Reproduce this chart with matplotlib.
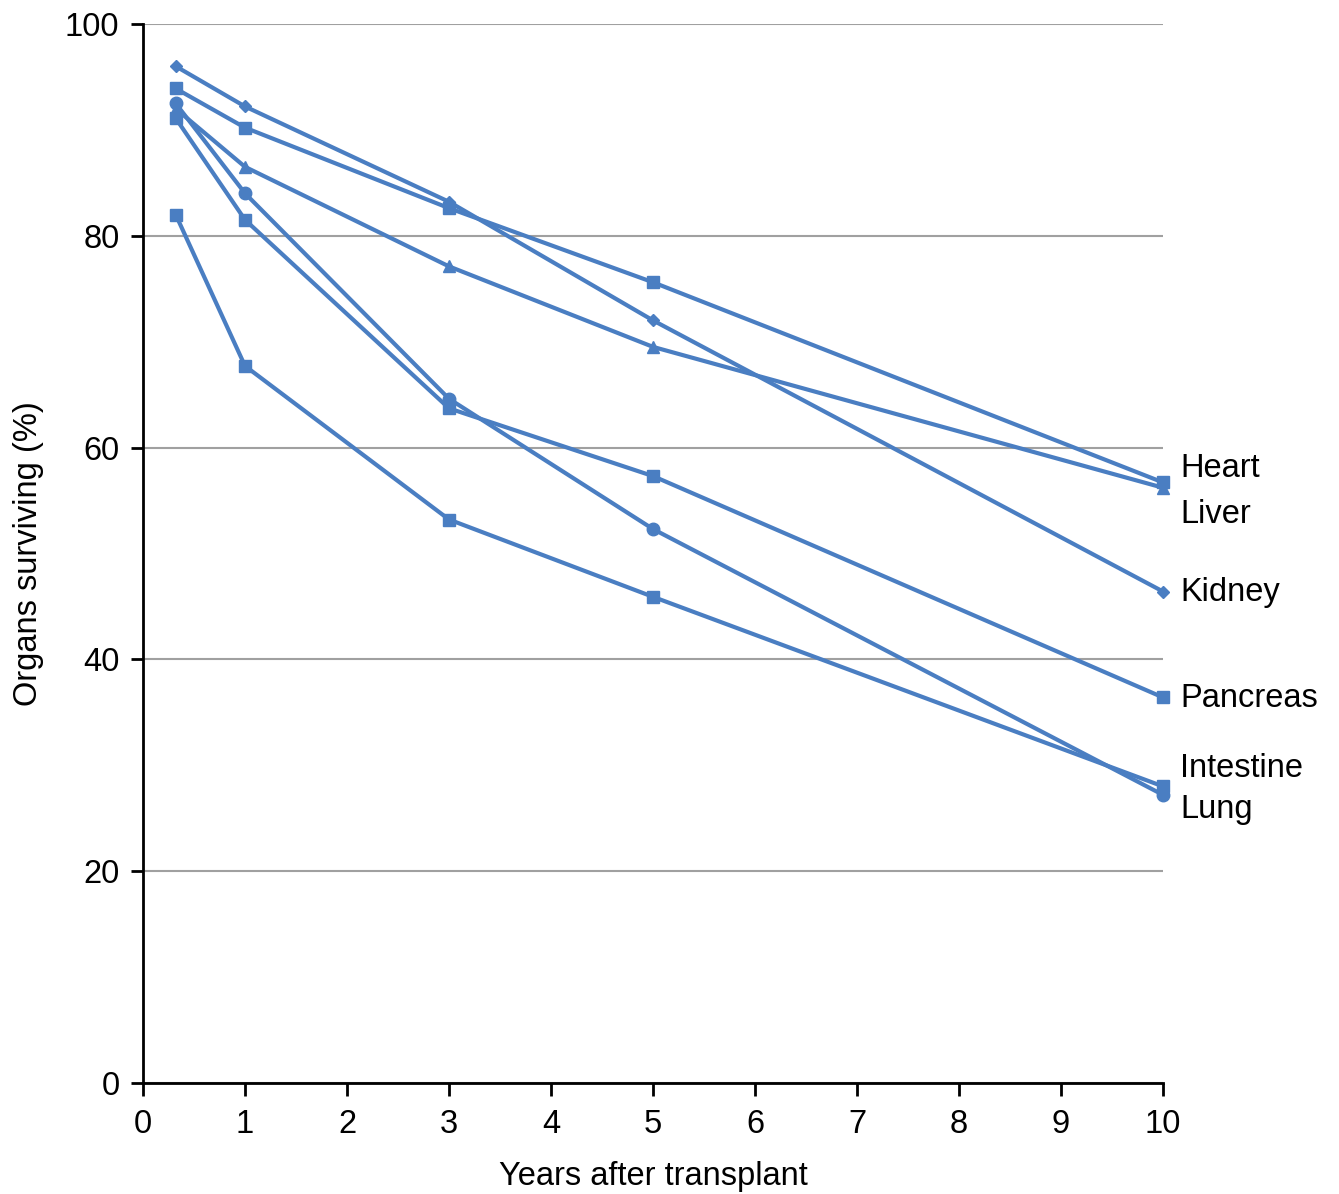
import matplotlib
matplotlib.use("Agg")
import matplotlib.pyplot as plt

plt.rcParams['font.family'] = ['Liberation Sans', 'DejaVu Sans']

years = [0.32, 1, 3, 5, 10]
kidney = [96.0, 92.2, 83.2, 72.0, 46.4]
heart = [93.9, 90.2, 82.6, 75.6, 56.7]
liver = [92.0, 86.5, 77.1, 69.5, 56.2]
lung = [92.5, 84.0, 64.6, 52.3, 27.2]
pancreas = [91.1, 81.5, 63.7, 57.3, 36.4]
intestine = [82.0, 67.7, 53.2, 45.9, 28.0]

series = [
    ("Kidney", kidney, "D", 6),
    ("Heart", heart, "s", 9),
    ("Liver", liver, "^", 9),
    ("Lung", lung, "o", 9),
    ("Pancreas", pancreas, "s", 9),
    ("Intestine", intestine, "s", 9),
]
labels = ["Heart", "Liver", "Kidney", "Pancreas", "Intestine", "Lung"]
label_y = [58.0, 53.7, 46.3, 36.3, 29.7, 25.8]

color = "#4A7EC2"

fig = plt.figure(figsize=(13.39, 11.94), dpi=100)
ax = fig.add_axes([0.1068, 0.093, 0.7618, 0.887])

for name, vals, m, ms in series:
    ax.plot(years, vals, color=color, lw=3, marker=m, markersize=ms,
            markeredgecolor=color, markerfacecolor=color, zorder=3, clip_on=False)

for lab, y in zip(labels, label_y):
    ax.text(10.17, y, lab, fontsize=23.5, va="center", ha="left")

ax.set_xlim(0, 10)
ax.set_ylim(0, 100)
ax.set_xticks(range(0, 11))
ax.set_yticks(range(0, 101, 20))
ax.yaxis.grid(True, color="#A0A0A0", lw=1.5)
ax.set_axisbelow(True)
for s in ["top", "right"]:
    ax.spines[s].set_visible(False)
for s in ["left", "bottom"]:
    ax.spines[s].set_linewidth(2)
    ax.spines[s].set_color("black")
ax.tick_params(axis="both", direction="out", length=9, width=2, labelsize=23.5)
ax.tick_params(axis="x", pad=10)
ax.tick_params(axis="y", pad=8)
ax.set_xlabel("Years after transplant", fontsize=23.5, labelpad=15)
ax.set_ylabel("Organs surviving (%)", fontsize=23.5, labelpad=15)

fig.savefig("out.png", dpi=100)
